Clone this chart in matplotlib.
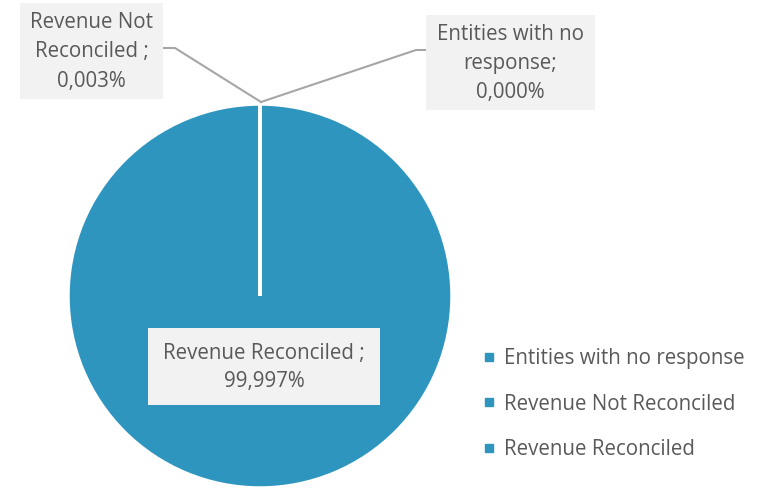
import matplotlib
matplotlib.use('Agg')
import matplotlib.pyplot as plt
from matplotlib.patches import Rectangle
from matplotlib.lines import Line2D

# --- Data ---
categories = ['Entities with no response', 'Revenue Not Reconciled', 'Revenue Reconciled']
shares = [0.000, 0.003, 99.997]
label_texts = ['Entities with no\nresponse;\n0,000%',
               'Revenue Not\nReconciled ;\n0,003%',
               'Revenue Reconciled ;\n99,997%']

BLUE = '#2E95BF'
BOX = '#F2F2F2'
TXT = '#595959'
plt.rcParams['font.family'] = ['Open Sans', 'DejaVu Sans']

W, H = 762, 488
fig = plt.figure(figsize=(W / 100, H / 100), dpi=100)
ax = fig.add_axes([0, 0, 1, 1])
ax.set_xlim(0, W)
ax.set_ylim(0, H)
ax.set_aspect('equal')
ax.axis('off')

# pie in pixel coordinates (y up)
cx, cy, r = 260, H - 296, 192
ax.pie(shares, colors=[BLUE] * 3, startangle=90, counterclock=False,
       center=(cx, cy), radius=r,
       wedgeprops=dict(edgecolor='white', linewidth=2.5))
ax.set_xlim(0, W)
ax.set_ylim(0, H)

# label boxes (x0, y0_top, x1, y1_bottom) in image pixels
boxes = [(426, 15, 595, 110), (20, 3, 163, 99), (148, 328, 380, 405)]
for (x0, yt, x1, yb), txt in zip(boxes, label_texts):
    ax.add_patch(Rectangle((x0, H - yb), x1 - x0, yb - yt, facecolor=BOX,
                           edgecolor='none', zorder=3))
    ax.text((x0 + x1) / 2, H - (yt + yb) / 2 - 1, txt, ha='center', va='center',
            fontsize=14.8, color=TXT, linespacing=1.5, zorder=4)

# leader lines
top = (261, H - 102)
ax.plot([426, 416, top[0]], [H - 50, H - 50, top[1]], color='#A6A6A6', lw=1.5, zorder=2)
ax.plot([163, 175, top[0]], [H - 48, H - 48, top[1]], color='#A6A6A6', lw=1.5, zorder=2)

# legend
handles = [Line2D([], [], marker='s', linestyle='none', color=BLUE, markersize=6)
           for _ in categories]
leg = ax.legend(handles, categories, loc='center left',
                bbox_to_anchor=(470 / W, 1 - 404 / H), frameon=False,
                fontsize=14.8, labelspacing=1.2, handletextpad=0.25,
                handlelength=1.0, borderaxespad=0)
for t in leg.get_texts():
    t.set_color(TXT)

fig.savefig('out.png', dpi=100, facecolor='white')
